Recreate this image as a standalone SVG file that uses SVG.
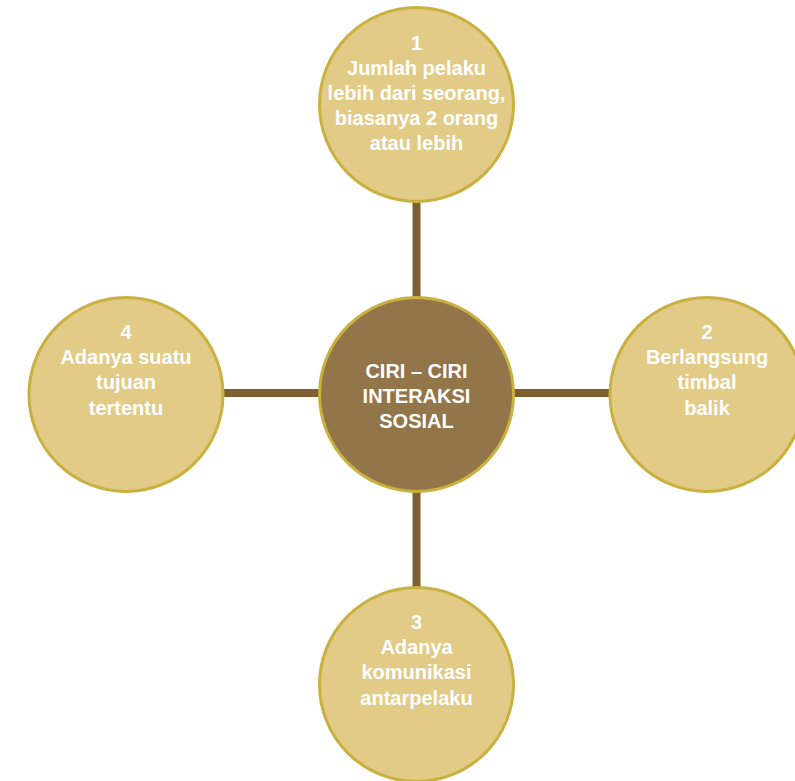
<svg xmlns="http://www.w3.org/2000/svg" width="795" height="781" viewBox="0 0 795 781">
<style>
.outer{fill:#e2cb86;stroke:#c9b03f;stroke-width:3}
.center{fill:#927548;stroke:#c9b03f;stroke-width:3}
.conn{stroke:#7d602f;stroke-width:8;fill:none}
text{font-family:"Liberation Sans",Arial,sans-serif;font-weight:bold;font-size:20px;fill:#ffffff;text-anchor:middle}
</style>
<rect width="795" height="781" fill="#ffffff"/>
<g id="connectors">
<line class="conn" x1="416.5" y1="200" x2="416.5" y2="299"/>
<line class="conn" x1="416.5" y1="490" x2="416.5" y2="589"/>
<line class="conn" x1="222" y1="393" x2="320" y2="393"/>
<line class="conn" x1="512" y1="393" x2="612" y2="393"/>
</g>
<g id="node1">
<circle class="outer" cx="416.5" cy="104.5" r="97"/>
<text x="416.5" y="49.5">1</text>
<text x="416.5" y="75">Jumlah pelaku</text>
<text x="416.5" y="100">lebih dari seorang,</text>
<text x="416.5" y="125">biasanya 2 orang</text>
<text x="416.5" y="150">atau lebih</text>
</g>
<g id="center">
<circle class="center" cx="416.5" cy="394.5" r="97"/>
<text x="416.5" y="378">CIRI – CIRI</text>
<text x="416.5" y="403">INTERAKSI</text>
<text x="416.5" y="428">SOSIAL</text>
</g>
<g id="node4">
<circle class="outer" cx="126" cy="394.5" r="97"/>
<text x="126" y="338.5">4</text>
<text x="126" y="364">Adanya suatu</text>
<text x="126" y="389">tujuan</text>
<text x="126" y="414.5">tertentu</text>
</g>
<g id="node2">
<circle class="outer" cx="707" cy="394.5" r="97"/>
<text x="707" y="338.5">2</text>
<text x="707" y="364">Berlangsung</text>
<text x="707" y="389">timbal</text>
<text x="707" y="414.5">balik</text>
</g>
<g id="node3">
<circle class="outer" cx="416.5" cy="684.5" r="97"/>
<text x="416.5" y="628.5">3</text>
<text x="416.5" y="654">Adanya</text>
<text x="416.5" y="679">komunikasi</text>
<text x="416.5" y="704.5">antarpelaku</text>
</g>
</svg>
